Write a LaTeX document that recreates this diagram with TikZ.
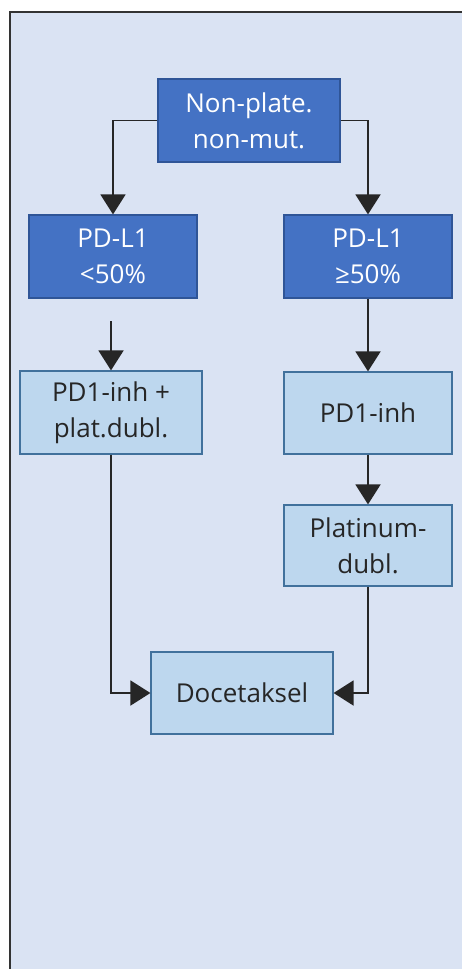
\documentclass[tikz,border=0pt]{standalone}
\usepackage{fontspec}
\setmainfont{Open Sans}
\usetikzlibrary{arrows.meta,calc}
\definecolor{bgblue}{HTML}{DAE3F3}
\definecolor{darkfill}{HTML}{4472C4}
\definecolor{darkedge}{HTML}{2F5597}
\definecolor{lightfill}{HTML}{BDD7EE}
\definecolor{lightedge}{HTML}{41719C}
\definecolor{txtdark}{HTML}{262626}
\tikzset{
  darkbox/.style={draw=darkedge,fill=darkfill,line width=1.2pt,text=white,inner sep=0pt,align=center,
    font=\fontsize{26}{36}\selectfont},
  lightbox/.style={draw=lightedge,fill=lightfill,line width=1.2pt,text=txtdark,inner sep=0pt,align=center,
    font=\fontsize{26}{36}\selectfont},
  conn/.style={draw=black!85,line width=1.8pt,-{Triangle[width=25pt,length=20pt]}},
}
\begin{document}
\begin{tikzpicture}[x=1pt,y=-1pt]
\useasboundingbox (0,0) rectangle (462,969);
\begin{scope}
\clip (0,0) rectangle (462,969);
\draw[fill=bgblue,draw=black!80,line width=2.2pt] (10,12) rectangle (475,985);
\end{scope}
\node[darkbox,minimum width=182pt,minimum height=83pt] (top) at (249,120.5) {Non-plate.\\non-mut.};
\node[darkbox,minimum width=168pt,minimum height=83pt] (l1) at (113,256.5) {PD-L1\\<50\%};
\node[darkbox,minimum width=168pt,minimum height=83pt] (r1) at (368,256.5) {PD-L1\\≥50\%};
\node[lightbox,minimum width=182pt,minimum height=83pt] (l2) at (111,412.5) {PD1-inh +\\plat.dubl.};
\node[lightbox,minimum width=168pt,minimum height=82pt] (r2) at (368,413) {PD1-inh};
\node[lightbox,minimum width=168pt,minimum height=81pt] (r3) at (368,545.5) {Platinum-\\dubl.};
\node[lightbox,minimum width=182pt,minimum height=82pt] (doc) at (242,693) {Docetaksel};
\coordinate (lstart) at (111,321);
\draw[conn] (top.west) -| (l1.north);
\draw[conn] (top.east) -| (r1.north);
\draw[conn] (lstart) -- (l2.north);
\draw[conn] (r1.south) -- (r2.north);
\draw[conn] (r2.south) -- (r3.north);
\draw[conn] (l2.south) |- (doc.west);
\draw[conn] (r3.south) |- (doc.east);
\end{tikzpicture}
\end{document}
